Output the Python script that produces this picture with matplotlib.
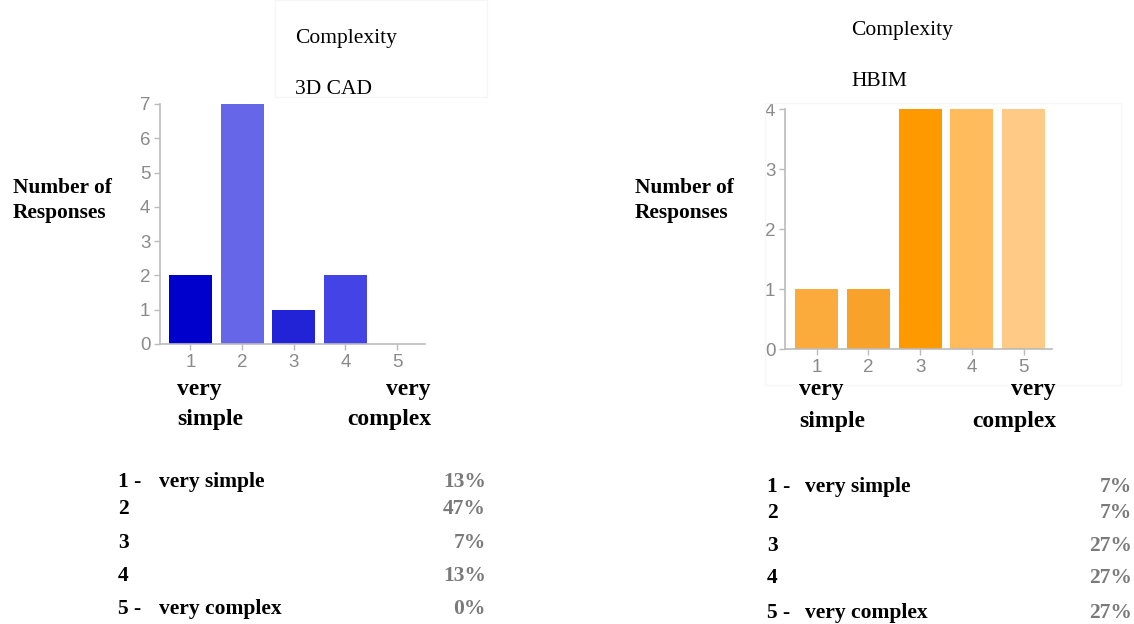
import matplotlib
matplotlib.use("Agg")
import matplotlib.pyplot as plt
from matplotlib.patches import Rectangle

levels = [1, 2, 3, 4, 5]
cad_counts = [2, 7, 1, 2, 0]
hbim_counts = [1, 1, 4, 4, 4]
cad_pct = ["13%", "47%", "7%", "13%", "0%"]
hbim_pct = ["7%", "7%", "27%", "27%", "27%"]
row_labels = ["1 -", "2", "3", "4", "5 -"]
row_texts = ["very simple", "", "", "", "very complex"]
cad_colors = ["#0000CC", "#6666E8", "#2222D6", "#4444E6", "#5555E0"]
hbim_colors = ["#FBAA3C", "#F9A22A", "#FF9900", "#FFBB5C", "#FFCA85"]

W, H = 1134, 624
fig = plt.figure(figsize=(W / 100, H / 100), dpi=100)
serif = ["Liberation Serif", "DejaVu Serif"]
sans = ["Liberation Sans", "DejaVu Sans"]


def px(x, y):
    return x / W, 1 - y / H


def ftext(x, y, s, **kw):
    fx, fy = px(x, y)
    fig.text(fx, fy, s, va="center", **kw)


# faint background boxes
fig.patches.append(Rectangle(px(275, 97), 212 / W, 97 / H, transform=fig.transFigure,
                             fill=False, edgecolor="#F6F6F6", lw=1))
fig.patches.append(Rectangle(px(765, 385), 356 / W, 282 / H, transform=fig.transFigure,
                             fill=False, edgecolor="#F7F7F7", lw=1))


def make_axes(rect, counts, colors, ymax, xlim):
    ax = fig.add_axes(rect)
    ax.bar(levels, counts, width=0.83, color=colors)
    ax.set_xlim(*xlim)
    ax.set_ylim(0, ymax)
    ax.set_xticks(levels)
    ax.set_yticks(range(ymax + 1))
    for s in ["top", "right"]:
        ax.spines[s].set_visible(False)
    for s in ["left", "bottom"]:
        ax.spines[s].set_color("#BBBBBB")
        ax.spines[s].set_linewidth(1.2)
    ax.tick_params(colors="#BBBBBB", length=4, width=1, labelcolor="#8A8A8A",
                   labelsize=13.5, pad=3)
    for lab in ax.get_xticklabels() + ax.get_yticklabels():
        lab.set_family(sans)
    ax.patch.set_alpha(0)
    return ax


# left chart
make_axes([160 / W, 1 - 344 / H, 265 / W, 240 / H], cad_counts, cad_colors, 7, (0.41, 5.54))
# right chart
make_axes([785 / W, 1 - 349 / H, 267 / W, 240 / H], hbim_counts, hbim_colors, 4, (0.39, 5.545))

# titles
ftext(295, 38, "Complexity", family=serif, fontsize=15.5)
ftext(295, 90, "3D CAD", family=serif, fontsize=15.5)
ftext(851, 30, "Complexity", family=serif, fontsize=15.5)
ftext(851, 82, "HBIM", family=serif, fontsize=15.5)

# y labels
for x0 in (13, 635):
    ftext(x0, 188, "Number of", family=serif, fontsize=15.4, weight="bold")
    ftext(x0, 213, "Responses", family=serif, fontsize=15.4, weight="bold")

# scale end labels
fs_end = 17
ftext(177, 390, "very", family=serif, fontsize=fs_end, weight="bold", ha="left")
ftext(177, 420, "simple", family=serif, fontsize=fs_end, weight="bold", ha="left")
ftext(431, 390, "very", family=serif, fontsize=fs_end, weight="bold", ha="right")
ftext(431, 420, "complex", family=serif, fontsize=fs_end, weight="bold", ha="right")
ftext(799, 390, "very", family=serif, fontsize=fs_end, weight="bold", ha="left")
ftext(799, 421, "simple", family=serif, fontsize=fs_end, weight="bold", ha="left")
ftext(1056, 390, "very", family=serif, fontsize=fs_end, weight="bold", ha="right")
ftext(1056, 421, "complex", family=serif, fontsize=fs_end, weight="bold", ha="right")

# tables
fs_tab = 15.5
left_rows_y = [482, 509, 543, 576, 609]
right_rows_y = [487, 513, 546, 578, 613]
for i in range(5):
    ftext(118, left_rows_y[i], row_labels[i], family=serif, fontsize=fs_tab, weight="bold")
    ftext(159, left_rows_y[i], row_texts[i], family=serif, fontsize=fs_tab, weight="bold")
    ftext(486, left_rows_y[i], cad_pct[i], family=serif, fontsize=fs_tab, weight="bold",
          color="#7A7A7A", ha="right")
    ftext(767, right_rows_y[i], row_labels[i], family=serif, fontsize=fs_tab, weight="bold")
    ftext(805, right_rows_y[i], row_texts[i], family=serif, fontsize=fs_tab, weight="bold")
    ftext(1132, right_rows_y[i], hbim_pct[i], family=serif, fontsize=fs_tab, weight="bold",
          color="#7A7A7A", ha="right")

fig.savefig("out.png", dpi=100)
